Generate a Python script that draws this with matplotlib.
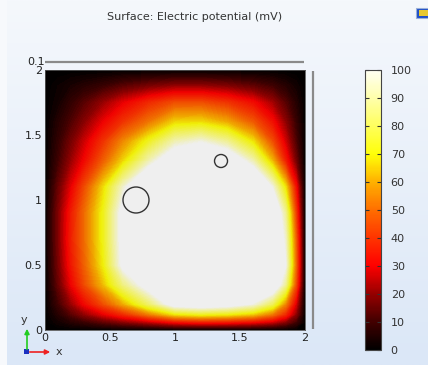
import numpy as np
import matplotlib
matplotlib.use("Agg")
import matplotlib.pyplot as plt
from matplotlib.colors import LinearSegmentedColormap, Normalize, to_rgb
from matplotlib.cm import ScalarMappable
from matplotlib.patches import Circle, Rectangle

# grid nodes (m) and potential values (mV)
x_nodes = [0, 0.1, 0.2, 0.3, 0.45, 0.6, 0.8, 1.0, 1.2, 1.4, 1.6, 1.75, 1.85, 1.93, 2.0]
y_nodes = [0, 0.06, 0.12, 0.2, 0.35, 0.5, 0.7, 0.9, 1.1, 1.3, 1.45, 1.6, 1.75, 1.88, 2.0]
potential = [
    [0, 0, 0, 0, 0, 0, 0, 0, 0, 0, 0, 0, 0, 0, 0],
    [0, 3, 6, 9, 14, 19, 25, 32, 35, 34, 31, 26, 19, 10, 0],
    [0, 6, 13, 20, 29, 38, 53, 68, 72, 70, 64, 52, 38, 20, 0],
    [0, 10, 21, 31, 45, 60, 82, 108, 112, 108, 98, 80, 55, 28, 0],
    [0, 15, 30, 44, 63, 85, 108, 130, 140, 140, 135, 115, 88, 45, 0],
    [0, 17, 34, 48, 70, 103, 130, 150, 155, 155, 150, 125, 100, 50, 0],
    [0, 18, 36, 50, 72, 105, 135, 155, 160, 160, 150, 122, 95, 48, 0],
    [0, 18, 35, 50, 72, 105, 130, 150, 155, 155, 145, 118, 88, 42, 0],
    [0, 15, 29, 44, 67, 95, 125, 140, 145, 140, 125, 98, 68, 33, 0],
    [0, 10, 21, 31, 48, 66, 92, 115, 120, 115, 92, 62, 36, 17, 0],
    [0, 8, 17, 26, 40, 55, 73, 92, 98, 88, 68, 45, 27, 12, 0],
    [0, 6, 12, 19, 30, 40, 52, 66, 67, 60, 47, 33, 20, 9, 0],
    [0, 3, 8, 13, 21, 29, 38, 45, 45, 40, 32, 22, 13, 6, 0],
    [0, 2, 4, 6, 9, 13, 17, 20, 20, 18, 14, 10, 6, 3, 0],
    [0, 0, 0, 0, 0, 0, 0, 0, 0, 0, 0, 0, 0, 0, 0],
]

# the two holes
hole_x = [0.7, 1.354]
hole_y = [1.0, 1.3]
hole_r = [0.1, 0.05]

ticks = [0, 0.5, 1, 1.5, 2]
tick_labels = ["0", "0.5", "1", "1.5", "2"]
cbar_ticks = list(range(0, 101, 10))

stops = [0.0, 0.1, 0.2, 0.3, 0.4, 0.5, 0.6, 0.7, 0.8, 0.9, 1.0]
colors = ["#000000", "#420000", "#960000", "#ff0000", "#ff3400", "#ff6e00",
          "#ffb000", "#ffff08", "#ffff5c", "#ffffaa", "#fffff4"]

thermal = LinearSegmentedColormap.from_list("thermal_light", list(zip(stops, colors)))
# the surface itself is drawn with a little shading, so it is a touch darker
shade = 0.94
lit = [tuple(c * shade for c in to_rgb(h)) for h in colors[:-1]] + ["#efefef"]
thermal_lit = LinearSegmentedColormap.from_list("thermal_lit", list(zip(stops, lit)))
thermal_lit.set_over("#efefef")

W, H = 428, 365
fig = plt.figure(figsize=(W / 100, H / 100), dpi=100)

# background + decorations in pixel coordinates
bg = fig.add_axes([0, 0, 1, 1], zorder=-5)
grad = np.linspace(0, 1, 256)[:, None]
bg_cmap = LinearSegmentedColormap.from_list("bg", ["#f5f8fc", "#dbe7f7"])
bg.imshow(grad, cmap=bg_cmap, extent=[0, W, H, 0], aspect="auto")
bg.add_patch(Rectangle((0, 0), 7, H, color="#f7f9fc", lw=0))
bg.set_xlim(0, W)
bg.set_ylim(H, 0)
bg.axis("off")

bg.plot([45, 304], [62, 62], color="#8a8a8a", lw=1.6, solid_capstyle="butt")
bg.plot([313, 313], [71, 329], color="#8a8a8a", lw=1.6, solid_capstyle="butt")
bg.text(45, 62, "0.1", ha="right", va="center", fontsize=8, color="#222222")

bg.text(195, 17, "Surface: Electric potential (mV)", ha="center", va="center",
        fontsize=8, color="#333333")

# toolbar icon
bg.add_patch(Rectangle((416, 8), 12, 10, facecolor="#1f4fc8", edgecolor="#9ab0d8", lw=0.8))
bg.add_patch(Rectangle((419, 10), 9, 6, facecolor="#e8c830", lw=0))

# axis triad
bg.annotate("", xy=(27, 326), xytext=(27, 352),
            arrowprops=dict(arrowstyle="-|>", color="#22cc22", lw=1.2, mutation_scale=7))
bg.annotate("", xy=(53, 352), xytext=(27, 352),
            arrowprops=dict(arrowstyle="-|>", color="#ee2222", lw=1.2, mutation_scale=7))
bg.add_patch(Rectangle((24, 349), 5, 5, color="#1a2fc0", lw=0))
bg.text(24, 320, "y", ha="center", va="center", fontsize=8, color="#333333")
bg.text(59, 352, "x", ha="center", va="center", fontsize=8, color="#333333")

# main surface
ax = fig.add_axes([45 / W, (H - 330) / H, 260 / W, 260 / H])
levels = np.linspace(0, 100, 101)
ax.contourf(x_nodes, y_nodes, np.array(potential), levels=levels, cmap=thermal_lit,
            extend="max", antialiased=False)
for cx, cy, r in zip(hole_x, hole_y, hole_r):
    ax.add_patch(Circle((cx, cy), r, fill=False, edgecolor="#333333", lw=1.0))
ax.set_xlim(0, 2)
ax.set_ylim(0, 2)
ax.set_xticks(ticks)
ax.set_xticklabels(tick_labels)
ax.set_yticks(ticks)
ax.set_yticklabels(tick_labels)
ax.tick_params(length=0, pad=2, labelsize=8, labelcolor="#222222")
for s in ax.spines.values():
    s.set_color("#555555")
    s.set_linewidth(0.6)

# colour legend
cax = fig.add_axes([365 / W, (H - 350) / H, 16 / W, 280 / H])
sm = ScalarMappable(norm=Normalize(0, 100), cmap=thermal)
cb = fig.colorbar(sm, cax=cax, ticks=cbar_ticks)
cb.outline.set_edgecolor("#444444")
cb.outline.set_linewidth(0.8)
cax.tick_params(length=3, width=0.8, direction="in", left=True, right=True,
                labelsize=8, labelcolor="#333333", color="#333333", pad=7)

fig.savefig("out.png", dpi=100)
